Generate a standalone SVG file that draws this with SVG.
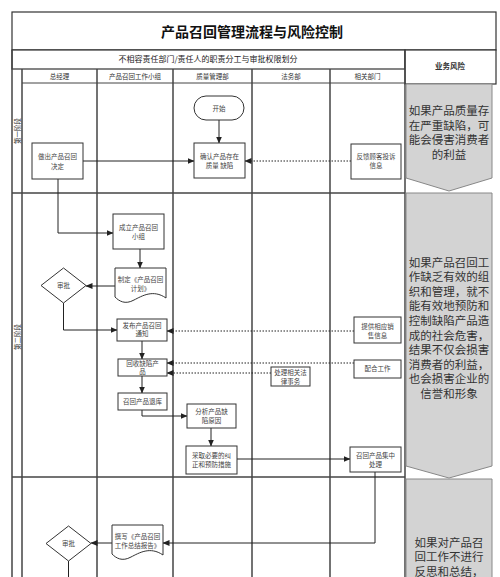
<svg xmlns="http://www.w3.org/2000/svg" width="500" height="577" viewBox="0 0 500 577">
<defs>
<marker id="ah" markerUnits="userSpaceOnUse" markerWidth="7" markerHeight="6" refX="6.5" refY="3" orient="auto">
<path d="M0,0 L7,3 L0,6 Z" fill="#222"/>
</marker>
<style>
.frame{fill:#fff;stroke:#333;stroke-width:1.2}
.grid{stroke:#444;stroke-width:1.5;fill:none}
.thin{stroke:#444;stroke-width:1;fill:none}
.box{fill:#fff;stroke:#333;stroke-width:1}
.risk{fill:#d3d3d3;stroke:#888;stroke-width:1}
.t{font-family:"Noto Sans CJK SC","Noto Sans",sans-serif;font-size:6.5px;fill:#444;text-anchor:middle}
.h{font-family:"Noto Sans CJK SC","Noto Sans",sans-serif;font-size:6.5px;fill:#333;text-anchor:middle}
.sub{font-family:"Noto Sans CJK SC",serif;font-size:8px;fill:#222;text-anchor:middle}
.title{font-family:"Noto Sans CJK SC","Noto Sans",sans-serif;font-size:14px;font-weight:bold;fill:#111;text-anchor:middle}
.rt{font-family:"Noto Sans CJK SC","Noto Sans",sans-serif;font-size:11.5px;fill:#333;text-anchor:middle}
.c{stroke:#222;stroke-width:1;fill:none;marker-end:url(#ah)}
.d{stroke:#222;stroke-width:1;fill:none;stroke-dasharray:1.5 1.5;marker-end:url(#ah)}
.ln{stroke:#222;stroke-width:1;fill:none}
</style>
</defs>
<rect width="500" height="577" fill="#fff"/>

<g id="header">
<rect class="frame" x="12" y="12" width="484" height="38"/>
<text class="title" x="252" y="37">产品召回管理流程与风险控制</text>
<rect class="frame" x="12" y="50" width="393" height="19"/>
<text class="sub" x="208" y="62">不相容责任部门/责任人的职责分工与审批权限划分</text>
<rect class="frame" x="405" y="50" width="91" height="34"/>
<text class="h" x="450" y="69" style="font-size:7.5px;font-weight:bold">业务风险</text>
</g>

<g id="grid">
<line class="grid" x1="12" y1="50" x2="12" y2="577"/>
<line class="grid" x1="22" y1="69" x2="22" y2="577"/>
<line class="grid" x1="97" y1="69" x2="97" y2="577"/>
<line class="grid" x1="173" y1="69" x2="173" y2="577"/>
<line class="grid" x1="252" y1="69" x2="252" y2="577"/>
<line class="grid" x1="330" y1="69" x2="330" y2="577"/>
<line class="grid" x1="405" y1="50" x2="405" y2="577"/>
<line class="thin" x1="22" y1="83" x2="405" y2="83"/>
<line class="grid" x1="12" y1="193" x2="405" y2="193"/>
<line class="grid" x1="12" y1="477" x2="405" y2="477"/>
<text class="h" x="59.5" y="78.5">总经理</text>
<text class="h" x="135" y="78.5">产品召回工作小组</text>
<text class="h" x="212.5" y="78.5">质量管理部</text>
<text class="h" x="291" y="78.5">法务部</text>
<text class="h" x="367.5" y="78.5">相关部门</text>
<text class="h" transform="translate(19.5,131) rotate(-90)">第一阶段</text>
<text class="h" transform="translate(19.5,337) rotate(-90)">第二阶段</text>
</g>

<g id="risks">
<path class="risk" d="M406,84 H492 V178 L449,191 L406,178 Z"/>
<text class="rt" x="449" y="115">如果产品质量存</text>
<text class="rt" x="449" y="129.6">在严重缺陷，可</text>
<text class="rt" x="449" y="144.2">能会侵害消费者</text>
<text class="rt" x="449" y="158.8">的利益</text>
<path class="risk" d="M406,193 H492 V466 L449,478 L406,466 Z"/>
<text class="rt" x="449" y="266.5">如果产品召回工</text>
<text class="rt" x="449" y="281.1">作缺乏有效的组</text>
<text class="rt" x="449" y="295.7">织和管理，就不</text>
<text class="rt" x="449" y="310.3">能有效地预防和</text>
<text class="rt" x="449" y="324.9">控制缺陷产品造</text>
<text class="rt" x="449" y="339.5">成的社会危害，</text>
<text class="rt" x="449" y="354.1">结果不仅会损害</text>
<text class="rt" x="449" y="368.7">消费者的利益，</text>
<text class="rt" x="449" y="383.3">也会损害企业的</text>
<text class="rt" x="449" y="397.9">信誉和形象</text>
<path class="risk" d="M406,479 H492 V590 H406 Z"/>
<text class="rt" x="449" y="546.5">如果对产品召</text>
<text class="rt" x="449" y="561">回工作不进行</text>
<text class="rt" x="449" y="575.5">反思和总结，</text>
</g>

<g id="connectors">
<path class="c" d="M219,120 V143"/>
<path class="c" d="M83,161 H194"/>
<path class="d" d="M351,161 H245"/>
<path class="c" d="M58,179 V233 H113"/>
<path class="c" d="M140,249 V268"/>
<path class="c" d="M115,286 H86"/>
<path class="c" d="M63.5,303 V330 H117"/>
<path class="d" d="M354,331 H167"/>
<path class="c" d="M142,341 V359"/>
<path class="d" d="M354,363 H167"/>
<path class="d" d="M271,373 H167"/>
<path class="c" d="M142,376 V393"/>
<path class="c" d="M142,410 V416 H187"/>
<path class="c" d="M211,428 V446"/>
<path class="c" d="M237,459 H350"/>
<path class="c" d="M375,472 V543 H163"/>
<path class="c" d="M112,543 H91"/>
<path class="ln" d="M68.5,561 V577"/>
</g>

<g id="n-start">
<rect class="box" x="194" y="96" width="50" height="24" rx="12"/>
<text class="t" x="219" y="110.5">开始</text>
</g>
<g id="n-confirm">
<rect class="box" x="194" y="143" width="51" height="35"/>
<text class="t" x="219.5" y="159">确认产品存在</text>
<text class="t" x="219.5" y="168">质量 缺陷</text>
</g>
<g id="n-decide">
<rect class="box" x="32" y="143" width="51" height="36"/>
<text class="t" x="57.5" y="159">做出产品召回</text>
<text class="t" x="57.5" y="169">决定</text>
</g>
<g id="n-feedback">
<rect class="box" x="351" y="144" width="50" height="35"/>
<text class="t" x="376" y="159">反馈顾客投诉</text>
<text class="t" x="376" y="168">信息</text>
</g>
<g id="n-team">
<rect class="box" x="113" y="214" width="51" height="35"/>
<text class="t" x="138.5" y="230">成立产品召回</text>
<text class="t" x="138.5" y="239">小组</text>
</g>
<g id="n-plan">
<path class="box" d="M115,268 H166 V298 C153,289 142,296 134,300 C125,305 119,301 115,297 Z"/>
<text class="t" x="140.5" y="282">制定《产品召回</text>
<text class="t" x="140.5" y="291">计划》</text>
</g>
<g id="n-approve1">
<path class="box" d="M63.5,268 L86,285.5 L63.5,303 L41,285.5 Z"/>
<text class="t" x="63.5" y="288">审批</text>
</g>
<g id="n-notice">
<rect class="box" x="117" y="319" width="50" height="22"/>
<text class="t" x="142" y="327.5">发布产品召回</text>
<text class="t" x="142" y="336">通知</text>
</g>
<g id="n-sales">
<rect class="box" x="354" y="317" width="47" height="26"/>
<text class="t" x="377.5" y="329">提供相应销</text>
<text class="t" x="377.5" y="337.5">售信息</text>
</g>
<g id="n-collect">
<rect class="box" x="118" y="359" width="49" height="17"/>
<text class="t" x="142.5" y="365.5">回收缺陷产</text>
<text class="t" x="142.5" y="374">品</text>
</g>
<g id="n-cooperate">
<rect class="box" x="354" y="360" width="47" height="18"/>
<text class="t" x="377.5" y="371">配合工作</text>
</g>
<g id="n-legal">
<rect class="box" x="271" y="367" width="39" height="19"/>
<text class="t" x="290.5" y="375">处理相关法</text>
<text class="t" x="290.5" y="384">律事务</text>
</g>
<g id="n-return">
<rect class="box" x="118" y="393" width="49" height="17"/>
<text class="t" x="142.5" y="404">召回产品退库</text>
</g>
<g id="n-analyze">
<rect class="box" x="187" y="404" width="49" height="24"/>
<text class="t" x="211.5" y="414">分析产品缺</text>
<text class="t" x="211.5" y="423">陷原因</text>
</g>
<g id="n-measures">
<rect class="box" x="186" y="446" width="51" height="28"/>
<text class="t" x="211.5" y="458">采取必要的纠</text>
<text class="t" x="211.5" y="466.5">正和预防措施</text>
</g>
<g id="n-central">
<rect class="box" x="350" y="447" width="51" height="25"/>
<text class="t" x="375.5" y="458">召回产品集中</text>
<text class="t" x="375.5" y="466.5">处理</text>
</g>
<g id="n-report">
<path class="box" d="M112,525 H163 V555 C150,546 139,553 131,557 C122,562 116,558 112,554 Z"/>
<text class="t" x="137.5" y="539">撰写《产品召回</text>
<text class="t" x="137.5" y="548">工作总结报告》</text>
</g>
<g id="n-approve2">
<path class="box" d="M68.5,526 L91,543.5 L68.5,561 L46,543.5 Z"/>
<text class="t" x="68.5" y="546">审批</text>
</g>
</svg>
